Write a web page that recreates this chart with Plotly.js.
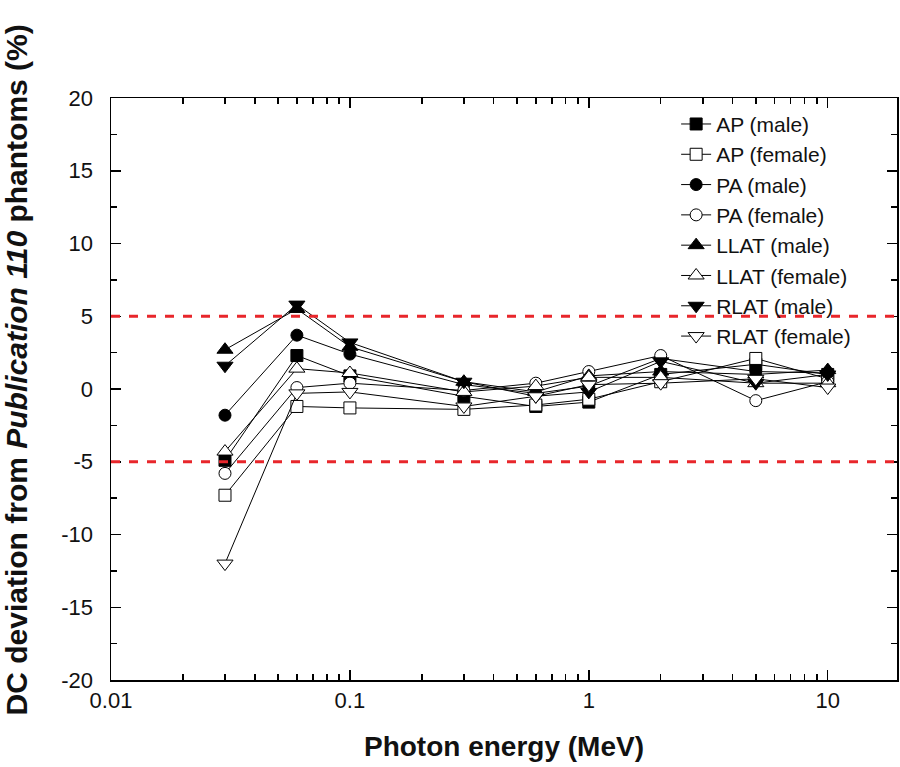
<!DOCTYPE html>
<html>
<head>
<meta charset="utf-8">
<script src="https://cdn.plot.ly/plotly-3.0.1.min.js"></script>
<style>html,body{margin:0;padding:0;background:#fff;}#chart{width:900px;height:767px;}</style>
</head>
<body>
<div id="chart"></div>
<script>
const energies = [0.03, 0.06, 0.1, 0.3, 0.6, 1, 2, 5, 10];

const apMale      = [-4.9, 2.3, 0.9, -0.5, -1.2, -0.9, 1.0, 1.7, 1.0];
const apFemale    = [-7.3, -1.2, -1.3, -1.4, -1.1, -0.7, 0.5, 2.1, 0.7];
const paMale      = [-1.8, 3.7, 2.4, 0.3, -0.3, 0.2, 2.1, 1.2, 1.1];
const paFemale    = [-5.8, 0.1, 0.4, -0.1, 0.4, 1.2, 2.3, -0.8, 0.5];
const llatMale    = [2.7, 5.5, 2.9, 0.5, -0.2, 0.9, 1.2, 1.0, 1.3];
const llatFemale  = [-4.3, 1.4, 1.1, -0.2, 0.2, 0.8, 0.8, 0.4, 0.4];
const rlatMale    = [1.6, 5.8, 3.2, 0.5, -0.5, -0.2, 1.9, 0.4, 1.0];
const rlatFemale  = [-12.0, -0.3, -0.2, -1.2, -0.5, 0.3, 0.4, 0.7, 0.1];

const seriesNames = ['AP (male)', 'AP (female)', 'PA (male)', 'PA (female)',
                     'LLAT (male)', 'LLAT (female)', 'RLAT (male)', 'RLAT (female)'];
const seriesData = [apMale, apFemale, paMale, paFemale, llatMale, llatFemale, rlatMale, rlatFemale];
const symbols = ['square', 'square', 'circle', 'circle', 'triangle-up', 'triangle-up', 'triangle-down', 'triangle-down'];
const filled = [true, false, true, false, true, false, true, false];

const yTickVals = [-20, -15, -10, -5, 0, 5, 10, 15, 20];
const yTickText = ['-20', '-15', '-10', '-5', '0', '5', '10', '15', '20'];
const xTickVals = [0.01, 0.1, 1, 10];
const xTickText = ['0.01', '0.1', '1', '10'];

const limitLines = [5, -5];

const traces = seriesData.map((ys, i) => ({
  x: energies,
  y: ys,
  name: seriesNames[i],
  type: 'scatter',
  mode: 'lines+markers',
  line: {color: '#000', width: 1},
  marker: {
    symbol: symbols[i],
    size: symbols[i].startsWith('triangle') ? 14 : 12,
    color: filled[i] ? '#000' : '#fff',
    line: {color: '#000', width: 1}
  }
}));

const shapes = limitLines.map(v => ({
  type: 'line', xref: 'paper', x0: 0, x1: 1, yref: 'y', y0: v, y1: v,
  line: {color: '#e8262b', width: 3, dash: 'dash'}
}));

const fontFam = 'Liberation Sans, Arial, sans-serif';

const layout = {
  width: 900, height: 767,
  margin: {l: 111, r: 3, t: 98, b: 87},
  paper_bgcolor: '#fff', plot_bgcolor: '#fff',
  font: {family: fontFam, color: '#111', size: 20},
  showlegend: true,
  legend: {
    x: 0.719, y: 0.99, xanchor: 'left', yanchor: 'top',
    bgcolor: 'rgba(0,0,0,0)', borderwidth: 0,
    font: {family: fontFam, size: 21, color: '#111'},
    tracegroupgap: 0
  },
  shapes: shapes,
  annotations: [{
    text: '<b>DC deviation from <i>Publication 110</i> phantoms (%)</b>',
    xref: 'paper', yref: 'paper', x: -0.12, y: 0.533, xanchor: 'center', yanchor: 'middle',
    textangle: -90, showarrow: false,
    font: {family: fontFam, size: 30, color: '#111'}
  }],
  xaxis: {
    type: 'log', range: [-2, 1.29],
    tickvals: xTickVals, ticktext: xTickText,
    ticks: 'inside', ticklen: 10, tickwidth: 1.5, tickcolor: '#000',
    minor: {ticks: 'inside', ticklen: 6, tickwidth: 1.5, tickcolor: '#000', dtick: 'D1', showgrid: false},
    showline: true, linecolor: '#000', linewidth: 1.5, mirror: 'ticks',
    showgrid: false, zeroline: false,
    tickfont: {family: fontFam, size: 22, color: '#111'},
    title: {text: '<b>Photon energy (MeV)</b>', font: {family: fontFam, size: 28, color: '#111'}, standoff: 24}
  },
  yaxis: {
    range: [-20, 20],
    tickvals: yTickVals, ticktext: yTickText,
    ticks: 'inside', ticklen: 10, tickwidth: 1.5, tickcolor: '#000',
    minor: {ticks: 'inside', ticklen: 6, tickwidth: 1.5, tickcolor: '#000', dtick: 2.5, showgrid: false},
    showline: true, linecolor: '#000', linewidth: 1.5, mirror: 'ticks',
    showgrid: false, zeroline: false,
    ticklabelstandoff: 12,
    tickfont: {family: fontFam, size: 22, color: '#111'}
  }
};

Plotly.newPlot('chart', traces, layout, {staticPlot: true, displayModeBar: false});
</script>
</body>
</html>
